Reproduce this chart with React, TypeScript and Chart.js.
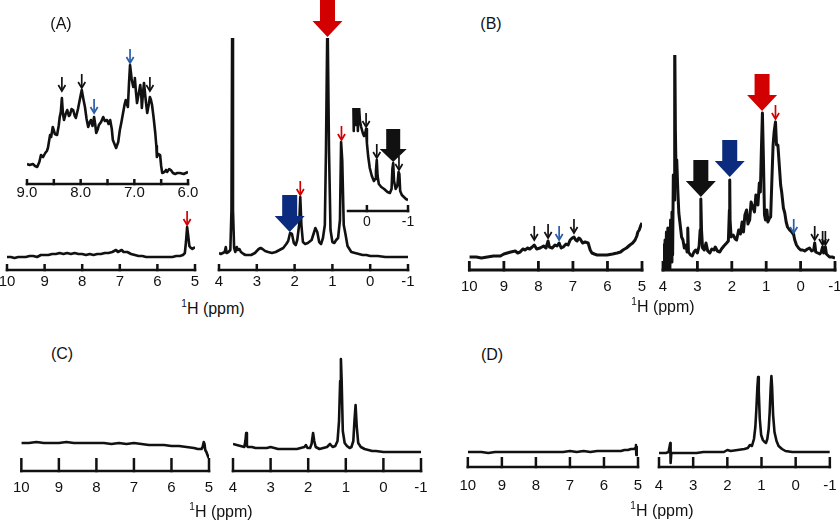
import React, { useEffect, useRef } from "react";
import { Chart, registerables } from "chart.js";

Chart.register(...registerables);

const FONT = '"Liberation Sans", Arial, Helvetica, sans-serif';
Chart.defaults.font.family = FONT;

type Pt = [number, number];
type ArrowKind = "big" | "mid" | "small";
type Arrow = { at: number; tip: number; kind: ArrowKind; color: string };

// ---------- tick values ----------
const TICKS_LOW = [10, 9, 8, 7, 6, 5];
const TICKS_HIGH = [4, 3, 2, 1, 0, -1];
const TICKS_AROM = [9, 8.5, 8, 7.5, 7, 6.5, 6];
const TICKS_UPFIELD = [0, -1];

// ---------- colours ----------
const INK = "#111111";
const RED = "#d20000";
const NAVY = "#0b2b7e";
const BLUE = "#2a5caa";

// ---------- spectra: [ppm, intensity] ----------
const A_LOW: Pt[] = [
  [10.0, 13], [9.9, 13], [9.8, 12], [9.7, 13], [9.6, 13], [9.5, 13], [9.4, 14], [9.3, 14], [9.2, 13],
  [9.1, 15], [9.0, 15], [8.9, 15], [8.8, 16], [8.7, 16], [8.6, 17], [8.5, 16], [8.4, 17], [8.3, 16],
  [8.2, 17], [8.1, 16], [8.0, 16], [7.9, 15], [7.8, 16], [7.7, 15], [7.6, 16], [7.5, 16], [7.4, 17],
  [7.3, 17], [7.2, 18], [7.15, 19], [7.1, 20], [7.05, 18], [7.0, 19], [6.95, 20], [6.9, 18], [6.8, 18],
  [6.7, 16], [6.6, 15], [6.5, 14], [6.4, 14], [6.3, 13], [6.2, 13], [6.0, 13], [5.8, 13], [5.6, 13],
  [5.5, 14], [5.4, 14], [5.32, 15], [5.27, 17], [5.24, 28], [5.21, 43], [5.18, 34], [5.15, 24],
  [5.11, 22], [5.07, 21], [5.03, 22], [5.0, 23],
];

const A_HIGH: Pt[] = [
  [4.0, 17], [3.95, 16], [3.9, 17], [3.85, 18], [3.82, 23], [3.8, 17], [3.75, 18], [3.7, 20],
  [3.67, 60], [3.65, 260], [3.63, 60], [3.6, 22], [3.57, 18], [3.53, 23], [3.5, 20], [3.46, 21],
  [3.42, 18], [3.35, 16], [3.3, 15], [3.25, 15], [3.15, 15], [3.05, 17], [2.95, 21], [2.9, 22],
  [2.85, 21], [2.78, 19], [2.7, 18], [2.6, 17], [2.5, 18], [2.4, 20], [2.3, 22], [2.22, 26],
  [2.17, 29], [2.12, 37], [2.07, 36], [2.02, 27], [1.97, 25], [1.93, 30], [1.88, 45], [1.85, 73],
  [1.82, 45], [1.78, 28], [1.72, 26], [1.65, 27], [1.55, 30], [1.5, 36], [1.45, 42], [1.4, 38],
  [1.35, 28], [1.3, 26], [1.25, 32], [1.2, 45], [1.17, 120], [1.13, 260], [1.09, 120], [1.05, 40],
  [1.0, 28], [0.95, 27], [0.9, 30], [0.85, 32], [0.8, 50], [0.77, 128], [0.74, 110], [0.7, 45],
  [0.65, 35], [0.6, 24], [0.5, 18], [0.4, 17], [0.3, 16], [0.2, 15], [0.1, 15], [0.0, 14],
  [-0.2, 14], [-0.4, 13], [-0.6, 13], [-0.8, 13], [-1.0, 13],
];

const A_AROM: Pt[] = [
  [9.0, 20], [8.95, 19], [8.89, 20], [8.85, 18], [8.81, 17], [8.77, 22], [8.74, 29], [8.7, 27],
  [8.66, 31], [8.63, 33], [8.61, 36], [8.57, 49], [8.55, 47], [8.52, 57], [8.48, 50], [8.44, 49],
  [8.41, 58], [8.39, 67], [8.37, 72], [8.35, 86], [8.33, 70], [8.31, 64], [8.28, 70], [8.25, 74],
  [8.22, 68], [8.2, 69], [8.17, 75], [8.14, 74], [8.11, 68], [8.09, 66], [8.05, 75], [8.01, 86],
  [7.98, 94], [7.95, 85], [7.92, 77], [7.89, 65], [7.86, 57], [7.83, 62], [7.81, 64], [7.78, 58],
  [7.75, 67], [7.73, 60], [7.71, 51], [7.68, 55], [7.66, 59], [7.62, 62], [7.58, 67], [7.55, 63],
  [7.51, 64], [7.48, 60], [7.45, 64], [7.42, 55], [7.4, 44], [7.37, 40], [7.34, 36], [7.3, 42],
  [7.27, 54], [7.24, 62], [7.21, 71], [7.18, 80], [7.16, 84], [7.14, 80], [7.12, 77], [7.1, 100],
  [7.08, 119], [7.05, 105], [7.02, 97], [7.0, 102], [6.99, 106], [6.97, 92], [6.95, 81], [6.92, 90],
  [6.89, 99], [6.87, 88], [6.86, 76], [6.84, 90], [6.82, 101], [6.79, 85], [6.76, 71], [6.73, 80],
  [6.71, 87], [6.69, 84], [6.67, 79], [6.64, 66], [6.61, 51], [6.59, 38], [6.58, 27], [6.55, 30],
  [6.52, 29], [6.5, 18], [6.48, 11], [6.44, 12], [6.41, 14], [6.39, 12], [6.35, 15], [6.32, 14],
  [6.28, 11], [6.24, 10], [6.2, 11], [6.15, 11], [6.08, 10], [6.0, 12],
];

const A_UPFIELD: Pt[] = [
  [0.34, 140], [0.32, 80], [0.3, 140], [0.27, 86], [0.25, 140], [0.22, 80], [0.2, 110], [0.17, 90],
  [0.14, 84], [0.1, 78], [0.07, 75], [0.04, 78], [0.02, 82], [0.0, 68], [-0.03, 55], [-0.07, 43],
  [-0.12, 35], [-0.17, 30], [-0.2, 32], [-0.22, 40], [-0.24, 51], [-0.26, 35], [-0.29, 27],
  [-0.35, 24], [-0.42, 22], [-0.5, 19], [-0.56, 18], [-0.6, 22], [-0.62, 42], [-0.64, 48],
  [-0.66, 30], [-0.7, 22], [-0.74, 25], [-0.77, 39], [-0.79, 37], [-0.81, 20], [-0.85, 16],
  [-0.9, 14], [-0.95, 12], [-1.0, 11],
];

const B_LOW: Pt[] = [
  [10.0, 13], [9.8, 13], [9.65, 12], [9.48, 13], [9.3, 14], [9.1, 14], [9.0, 16], [8.9, 17],
  [8.8, 18], [8.67, 19], [8.6, 17], [8.53, 18], [8.45, 21], [8.38, 20], [8.32, 22], [8.25, 21],
  [8.18, 23], [8.12, 25], [8.05, 21], [7.95, 22], [7.85, 24], [7.78, 22], [7.72, 29], [7.68, 23],
  [7.6, 22], [7.52, 25], [7.46, 24], [7.4, 27], [7.34, 22], [7.28, 23], [7.2, 26], [7.14, 25],
  [7.08, 30], [7.02, 32], [6.97, 33], [6.92, 30], [6.88, 29], [6.83, 32], [6.79, 31], [6.72, 27],
  [6.65, 28], [6.56, 27], [6.5, 20], [6.45, 17], [6.38, 16], [6.3, 15], [6.15, 15], [6.01, 15],
  [5.85, 16], [5.72, 17], [5.62, 18], [5.55, 20], [5.45, 22], [5.35, 25], [5.27, 27], [5.2, 30],
  [5.15, 34], [5.12, 38], [5.08, 40], [5.04, 44], [5.0, 47],
];

const B_HIGH: Pt[] = [
  [4.0, 0], [3.98, 25], [3.96, 0], [3.94, 30], [3.92, 2], [3.9, 38], [3.88, 0], [3.86, 42],
  [3.84, 4], [3.82, 20], [3.8, 0], [3.78, 50], [3.76, 8], [3.74, 58], [3.72, 15], [3.7, 95],
  [3.68, 70], [3.66, 240], [3.64, 140], [3.62, 95], [3.6, 110], [3.57, 80], [3.54, 57], [3.5, 45],
  [3.46, 33], [3.42, 30], [3.38, 22], [3.33, 25], [3.3, 18], [3.28, 42], [3.26, 18], [3.2, 15],
  [3.15, 14], [3.1, 18], [3.05, 20], [3.0, 17], [2.95, 24], [2.92, 40], [2.9, 71], [2.88, 40],
  [2.85, 22], [2.8, 20], [2.75, 27], [2.7, 19], [2.64, 17], [2.58, 21], [2.52, 20], [2.48, 23],
  [2.42, 19], [2.35, 18], [2.3, 21], [2.23, 24], [2.15, 27], [2.1, 29], [2.07, 60], [2.06, 90],
  [2.05, 50], [2.02, 33], [1.96, 35], [1.9, 31], [1.86, 30], [1.8, 40], [1.75, 36], [1.7, 48],
  [1.66, 38], [1.62, 55], [1.57, 60], [1.53, 46], [1.48, 50], [1.44, 68], [1.39, 63], [1.34, 58],
  [1.3, 75], [1.27, 73], [1.24, 65], [1.2, 87], [1.17, 78], [1.14, 120], [1.11, 157], [1.08, 110],
  [1.05, 55], [1.02, 50], [0.98, 60], [0.95, 48], [0.9, 52], [0.87, 53], [0.83, 95], [0.8, 125],
  [0.77, 138], [0.73, 148], [0.7, 125], [0.66, 125], [0.62, 105], [0.58, 85], [0.55, 78], [0.5, 62],
  [0.46, 57], [0.42, 48], [0.38, 43], [0.32, 40], [0.26, 38], [0.22, 36], [0.2, 35], [0.17, 30],
  [0.12, 25], [0.06, 22], [0.0, 20], [-0.06, 20], [-0.12, 19], [-0.2, 21], [-0.26, 22], [-0.32, 19],
  [-0.38, 20], [-0.41, 27], [-0.44, 18], [-0.5, 17], [-0.56, 16], [-0.6, 18], [-0.64, 23],
  [-0.67, 17], [-0.72, 23], [-0.75, 16], [-0.84, 13], [-0.92, 13], [-1.0, 12],
];

const C_LOW: Pt[] = [
  [10.0, 28], [9.8, 28], [9.6, 29], [9.4, 28], [9.2, 28], [9.0, 28], [8.8, 29], [8.6, 28],
  [8.4, 28], [8.2, 28], [8.0, 28], [7.8, 28], [7.6, 27], [7.4, 28], [7.2, 27], [7.0, 28],
  [6.8, 27], [6.6, 26], [6.4, 26], [6.2, 26], [6.0, 25], [5.8, 25], [5.6, 24], [5.4, 23],
  [5.3, 22], [5.2, 22], [5.17, 24], [5.14, 29], [5.12, 27], [5.1, 21], [5.07, 19], [5.04, 16],
  [5.02, 14], [5.0, 13],
];

const C_HIGH: Pt[] = [
  [4.0, 27], [3.9, 26], [3.8, 25], [3.7, 24], [3.67, 30], [3.65, 38], [3.63, 25], [3.6, 24],
  [3.5, 24], [3.4, 23], [3.3, 23], [3.2, 23], [3.1, 23], [3.0, 24], [2.9, 23], [2.8, 22],
  [2.7, 22], [2.6, 22], [2.5, 22], [2.4, 22], [2.3, 22], [2.2, 23], [2.1, 24], [2.06, 26],
  [2.02, 23], [1.95, 23], [1.91, 27], [1.87, 38], [1.84, 30], [1.8, 24], [1.7, 22], [1.6, 23],
  [1.5, 24], [1.42, 27], [1.35, 24], [1.28, 25], [1.22, 30], [1.18, 50], [1.15, 90], [1.13, 112],
  [1.11, 90], [1.08, 40], [1.03, 28], [0.97, 25], [0.9, 23], [0.85, 24], [0.8, 30], [0.77, 50],
  [0.74, 66], [0.71, 45], [0.67, 28], [0.6, 24], [0.5, 22], [0.4, 21], [0.3, 20], [0.2, 20],
  [0.0, 19], [-0.2, 19], [-0.4, 19], [-0.6, 19], [-0.8, 19], [-1.0, 19],
];

const D_LOW: Pt[] = [
  [10.0, 15], [9.8, 15], [9.6, 15], [9.4, 14], [9.2, 15], [9.0, 15], [8.8, 15], [8.6, 15],
  [8.4, 15], [8.2, 15], [8.0, 15], [7.8, 15], [7.6, 15], [7.4, 15], [7.2, 15], [7.0, 16],
  [6.8, 15], [6.6, 16], [6.4, 15], [6.2, 16], [6.0, 16], [5.8, 16], [5.6, 16], [5.5, 16],
  [5.4, 17], [5.3, 17], [5.2, 18], [5.12, 18], [5.08, 19], [5.06, 22], [5.05, 12], [5.03, 20],
  [5.0, 18],
];

const D_HIGH: Pt[] = [
  [4.0, 14], [3.9, 14], [3.8, 14], [3.72, 15], [3.67, 24], [3.66, 4], [3.64, 14], [3.5, 14],
  [3.3, 14], [3.1, 14], [2.9, 14], [2.7, 15], [2.5, 15], [2.3, 15], [2.1, 15], [2.0, 17],
  [1.9, 16], [1.7, 17], [1.5, 18], [1.4, 19], [1.34, 22], [1.28, 21], [1.22, 28], [1.18, 40],
  [1.15, 58], [1.12, 80], [1.1, 90], [1.08, 76], [1.05, 48], [1.01, 32], [0.96, 27], [0.91, 25],
  [0.87, 24], [0.83, 28], [0.79, 38], [0.76, 55], [0.73, 80], [0.71, 91], [0.69, 80], [0.66, 52],
  [0.62, 35], [0.56, 26], [0.5, 21], [0.4, 18], [0.3, 16], [0.1, 15], [0.0, 15], [-0.3, 15],
  [-0.6, 15], [-1.0, 15],
];

// ---------- arrow annotations: ppm position, intensity of tip ----------
const A_LOW_ARROWS: Arrow[] = [{ at: 5.21, tip: 45, kind: "small", color: RED }];
const A_HIGH_ARROWS: Arrow[] = [
  { at: 1.13, tip: 233, kind: "big", color: RED },
  { at: 2.13, tip: 38, kind: "big", color: NAVY },
  { at: 1.85, tip: 75, kind: "small", color: RED },
  { at: 0.76, tip: 130, kind: "small", color: RED },
];
const A_AROM_ARROWS: Arrow[] = [
  { at: 8.35, tip: 93, kind: "small", color: INK },
  { at: 7.98, tip: 96, kind: "small", color: INK },
  { at: 7.75, tip: 71, kind: "small", color: BLUE },
  { at: 7.08, tip: 121, kind: "small", color: BLUE },
  { at: 6.71, tip: 93, kind: "small", color: INK },
];
const A_UPFIELD_ARROWS: Arrow[] = [
  { at: 0.02, tip: 84, kind: "small", color: INK },
  { at: -0.24, tip: 53, kind: "small", color: INK },
  { at: -0.64, tip: 49, kind: "mid", color: INK },
  { at: -0.78, tip: 41, kind: "small", color: INK },
];
const B_LOW_ARROWS: Arrow[] = [
  { at: 8.12, tip: 30, kind: "small", color: INK },
  { at: 7.72, tip: 32, kind: "small", color: INK },
  { at: 7.4, tip: 30, kind: "small", color: BLUE },
  { at: 6.97, tip: 37, kind: "small", color: INK },
];
const B_HIGH_ARROWS: Arrow[] = [
  { at: 2.9, tip: 73, kind: "big", color: INK },
  { at: 2.06, tip: 93, kind: "big", color: NAVY },
  { at: 1.12, tip: 159, kind: "big", color: RED },
  { at: 0.73, tip: 151, kind: "small", color: RED },
  { at: 0.2, tip: 37, kind: "small", color: BLUE },
  { at: -0.41, tip: 30, kind: "small", color: INK },
  { at: -0.64, tip: 25, kind: "small", color: INK },
  { at: -0.72, tip: 25, kind: "small", color: INK },
];

// ---------- chart component ----------
type Cfg = {
  data: Pt[];
  xMin: number;
  xMax: number;
  ticks: number[];
  fmt: (v: number) => string;
  left: number;
  right: number;
  top: number;
  axisY: number;
  canvasTop: number;
  fontSize: number;
  pad: number;
  tickLen: number;
  lineWidth: number;
  axisWidth: number;
  arrows: Arrow[];
};

const ARROW_DIMS = {
  big: { len: 37, headH: 16, headW: 30, shaftW: 15 },
  mid: { len: 33, headH: 13, headW: 27, shaftW: 14 },
};

function makeDeco(cfg: Cfg) {
  return {
    id: "spectrumDeco",
    afterDraw(chart: any) {
      const { ctx, chartArea } = chart;
      const xs = chart.scales.x;
      const ys = chart.scales.y;
      ctx.save();
      ctx.strokeStyle = INK;
      ctx.lineWidth = cfg.axisWidth;
      ctx.lineCap = "butt";
      const yb = chartArea.bottom;
      ctx.beginPath();
      ctx.moveTo(chartArea.left - cfg.axisWidth / 2, yb);
      ctx.lineTo(chartArea.right + cfg.axisWidth / 2, yb);
      ctx.stroke();
      for (const t of xs.ticks) {
        const px = xs.getPixelForValue(t.value);
        ctx.beginPath();
        ctx.moveTo(px, yb + cfg.axisWidth / 2);
        ctx.lineTo(px, yb - cfg.tickLen);
        ctx.stroke();
      }
      for (const a of cfg.arrows) {
        const tx = xs.getPixelForValue(a.at);
        const ty = ys.getPixelForValue(a.tip);
        ctx.fillStyle = a.color;
        ctx.strokeStyle = a.color;
        if (a.kind === "small") {
          ctx.lineWidth = 1.7;
          ctx.beginPath();
          ctx.moveTo(tx, ty - 14);
          ctx.lineTo(tx, ty - 1);
          ctx.stroke();
          ctx.beginPath();
          ctx.moveTo(tx - 3.6, ty - 6);
          ctx.lineTo(tx, ty);
          ctx.lineTo(tx + 3.6, ty - 6);
          ctx.stroke();
        } else {
          const d = ARROW_DIMS[a.kind];
          ctx.beginPath();
          ctx.moveTo(tx - d.shaftW / 2, ty - d.len);
          ctx.lineTo(tx + d.shaftW / 2, ty - d.len);
          ctx.lineTo(tx + d.shaftW / 2, ty - d.headH);
          ctx.lineTo(tx + d.headW / 2, ty - d.headH);
          ctx.lineTo(tx, ty);
          ctx.lineTo(tx - d.headW / 2, ty - d.headH);
          ctx.lineTo(tx - d.shaftW / 2, ty - d.headH);
          ctx.closePath();
          ctx.fill();
        }
      }
      ctx.restore();
    },
  };
}

const PAD_X = 16;

function Spectrum({ cfg }: { cfg: Cfg }) {
  const ref = useRef<HTMLCanvasElement>(null);
  const lineH = cfg.fontSize * 1.2;
  const rawH = cfg.axisY - cfg.canvasTop + lineH + 2 * cfg.pad;
  const height = Math.ceil(rawH) + 1;
  const padBottom = height - rawH;
  const width = cfg.right - cfg.left + 2 * PAD_X;

  useEffect(() => {
    const chart = new Chart(ref.current as HTMLCanvasElement, {
      type: "line",
      data: {
        datasets: [
          {
            data: cfg.data.map(([x, y]) => ({ x, y })),
            borderColor: INK,
            borderWidth: cfg.lineWidth,
            pointRadius: 0,
            tension: 0,
            fill: false,
            borderJoinStyle: "round",
          },
        ],
      },
      options: {
        responsive: false,
        animation: false,
        events: [],
        layout: {
          padding: { left: PAD_X, right: PAD_X, top: cfg.top - cfg.canvasTop, bottom: padBottom },
        },
        plugins: { legend: { display: false }, tooltip: { enabled: false } },
        scales: {
          x: {
            type: "linear",
            reverse: true,
            min: cfg.xMin,
            max: cfg.xMax,
            afterBuildTicks: (scale: any) => {
              scale.ticks = cfg.ticks.map((v) => ({ value: v }));
            },
            grid: { display: false, drawTicks: false },
            border: { display: false },
            ticks: {
              padding: cfg.pad,
              color: INK,
              autoSkip: false,
              maxRotation: 0,
              font: { size: cfg.fontSize, family: FONT },
              callback: (v: any) => cfg.fmt(Number(v)),
            },
          },
          y: { display: false, min: 0, max: cfg.axisY - cfg.top },
        },
      } as any,
      plugins: [makeDeco(cfg)],
    });
    return () => chart.destroy();
  }, []);

  return (
    <canvas
      ref={ref}
      width={width}
      height={height}
      style={{ position: "absolute", left: cfg.left - PAD_X, top: cfg.canvasTop, width, height }}
    />
  );
}

const intFmt = (v: number) => String(v);
const aromFmt = (v: number) => (Number.isInteger(v) ? v.toFixed(1) : "");

const MAIN = { fontSize: 15, lineWidth: 2.6, axisWidth: 2.5 };

const CHARTS: Cfg[] = [
  { ...MAIN, data: A_LOW, xMin: 5, xMax: 10, ticks: TICKS_LOW, fmt: intFmt, left: 7, right: 195, top: 150, axisY: 270, canvasTop: 130, pad: 3, tickLen: 6, arrows: A_LOW_ARROWS },
  { ...MAIN, data: A_HIGH, xMin: -1, xMax: 4, ticks: TICKS_HIGH, fmt: intFmt, left: 219, right: 408, top: 38, axisY: 270, canvasTop: 0, pad: 3, tickLen: 6, arrows: A_HIGH_ARROWS },
  { ...MAIN, fontSize: 15, lineWidth: 2.6, data: A_AROM, xMin: 6, xMax: 9, ticks: TICKS_AROM, fmt: aromFmt, left: 27, right: 188, top: 45, axisY: 184, canvasTop: 40, pad: 0.3, tickLen: 5, arrows: A_AROM_ARROWS },
  { ...MAIN, fontSize: 14, data: A_UPFIELD, xMin: -1, xMax: 0.46, ticks: TICKS_UPFIELD, fmt: intFmt, left: 348, right: 408, top: 108, axisY: 211, canvasTop: 100, pad: 3.1, tickLen: 6, arrows: A_UPFIELD_ARROWS },
  { ...MAIN, lineWidth: 3, axisWidth: 2.8, data: B_LOW, xMin: 5, xMax: 10, ticks: TICKS_LOW, fmt: intFmt, left: 469, right: 642, top: 200, axisY: 270, canvasTop: 190, pad: 8, tickLen: 9, arrows: B_LOW_ARROWS },
  { ...MAIN, lineWidth: 3, axisWidth: 2.8, data: B_HIGH, xMin: -1, xMax: 4, ticks: TICKS_HIGH, fmt: intFmt, left: 663, right: 835, top: 55, axisY: 270, canvasTop: 50, pad: 8, tickLen: 9, arrows: B_HIGH_ARROWS },
  { ...MAIN, data: C_LOW, xMin: 5, xMax: 10, ticks: TICKS_LOW, fmt: intFmt, left: 21, right: 209, top: 420, axisY: 471, canvasTop: 400, pad: 8, tickLen: 13, arrows: [] },
  { ...MAIN, data: C_HIGH, xMin: -1, xMax: 4, ticks: TICKS_HIGH, fmt: intFmt, left: 233, right: 421, top: 340, axisY: 471, canvasTop: 330, pad: 8, tickLen: 13, arrows: [] },
  { ...MAIN, data: D_LOW, xMin: 5, xMax: 10, ticks: TICKS_LOW, fmt: intFmt, left: 466, right: 638, top: 420, axisY: 467, canvasTop: 400, pad: 9.5, tickLen: 10, arrows: [] },
  { ...MAIN, data: D_HIGH, xMin: -1, xMax: 4, ticks: TICKS_HIGH, fmt: intFmt, left: 659, right: 830, top: 360, axisY: 467, canvasTop: 350, pad: 9.5, tickLen: 10, arrows: [] },
];

const AXIS_TITLES = [
  { x: 213, base: 314 },
  { x: 663, base: 312 },
  { x: 221, base: 517 },
  { x: 662, base: 516 },
];

const PANEL_LABELS = [
  { text: "(A)", x: 61, base: 29.5 },
  { text: "(B)", x: 491, base: 29 },
  { text: "(C)", x: 62, base: 359 },
  { text: "(D)", x: 492, base: 360 },
];

export default function App() {
  return (
    <div
      style={{
        position: "fixed",
        left: 0,
        top: 0,
        width: 840,
        height: 523,
        background: "#ffffff",
        overflow: "hidden",
        fontFamily: FONT,
        color: INK,
      }}
    >
      {CHARTS.map((c, i) => (
        <Spectrum key={i} cfg={c} />
      ))}
      {AXIS_TITLES.map((t, i) => (
        <div
          key={"t" + i}
          style={{
            position: "absolute",
            left: t.x,
            top: t.base - 13.5,
            transform: "translateX(-50%)",
            fontSize: 16,
            lineHeight: "16px",
            whiteSpace: "nowrap",
          }}
        >
          <span style={{ fontSize: 10, position: "relative", top: -7 }}>1</span>H (ppm)
        </div>
      ))}
      {PANEL_LABELS.map((p, i) => (
        <div
          key={"p" + i}
          style={{
            position: "absolute",
            left: p.x,
            top: p.base - 13.5,
            transform: "translateX(-50%)",
            fontSize: 16,
            lineHeight: "16px",
            whiteSpace: "nowrap",
          }}
        >
          {p.text}
        </div>
      ))}
    </div>
  );
}
